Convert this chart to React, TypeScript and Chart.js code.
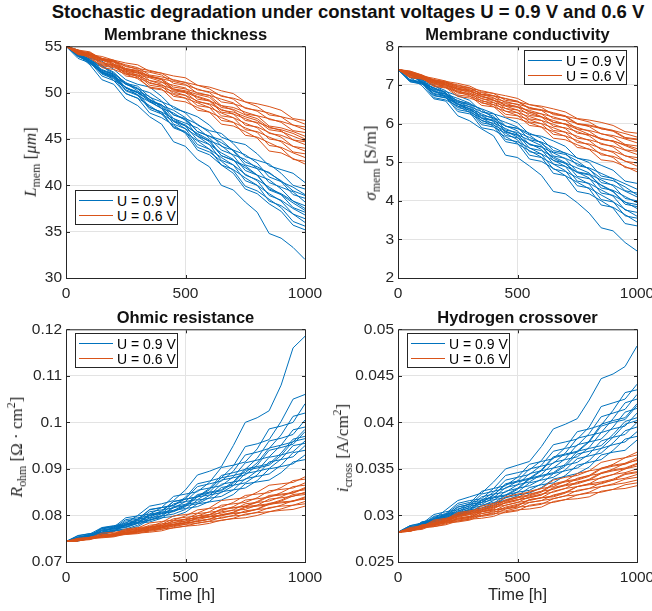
import React, { useEffect, useRef } from 'react';
import { Chart, registerables } from 'chart.js';

Chart.register(...registerables);

// ---------------- data ----------------
const TIME_H = [0, 50, 100, 150, 200, 250, 300, 350, 400, 450, 500, 550, 600, 650, 700, 750, 800, 850, 900, 950, 1000];
const X_TICKS = [0, 500, 1000];
const L_TICKS = [30, 35, 40, 45, 50, 55];
const SIGMA_TICKS = [2, 3, 4, 5, 6, 7, 8];
const R_TICKS = [0.07, 0.08, 0.09, 0.1, 0.11, 0.12];
const I_TICKS = [0.025, 0.03, 0.035, 0.04, 0.045, 0.05];
const SERIES_LABELS = ['U = 0.9 V', 'U = 0.6 V'];

const L_MEM_09 = [
  [55, 54.6, 53.7, 53.4, 52.5, 51.4, 50.9, 50.6, 49.6, 48.3, 47.9, 47.4, 46.5, 45.2, 44.7, 44.4, 43.4, 42.1, 41.7, 41.3, 40.3],
  [55, 54.0, 53.4, 52.9, 52.2, 51.0, 50.7, 49.5, 49.0, 48.5, 47.8, 46.5, 45.9, 45.6, 44.5, 43.1, 42.7, 42.3, 41.3, 40.0, 39.6],
  [55, 54.5, 53.8, 52.4, 52.0, 51.1, 50.4, 50.0, 49.1, 47.6, 47.2, 46.6, 45.7, 44.2, 43.8, 43.3, 42.4, 40.9, 40.4, 39.8, 39.0],
  [55, 53.9, 53.3, 52.8, 52.1, 50.9, 50.5, 49.2, 48.6, 48.1, 47.3, 45.8, 45.3, 44.9, 43.7, 42.2, 41.8, 41.4, 40.4, 39.0, 38.6],
  [55, 54.3, 53.6, 52.1, 51.7, 51.0, 50.2, 49.0, 48.7, 47.2, 46.7, 46.2, 45.1, 43.8, 43.3, 42.8, 41.8, 40.3, 39.8, 39.3, 38.2],
  [55, 54.0, 53.5, 53.0, 51.8, 50.5, 50.1, 49.6, 48.3, 47.8, 47.0, 45.3, 44.8, 44.3, 43.2, 41.6, 41.1, 40.6, 39.6, 38.3, 37.8],
  [55, 54.5, 53.3, 52.5, 52.0, 50.5, 50.0, 49.3, 48.5, 46.9, 46.4, 45.6, 44.9, 43.2, 42.7, 42.1, 41.1, 39.6, 39.1, 38.3, 37.5],
  [55, 53.9, 53.4, 52.0, 51.5, 50.6, 50.0, 48.4, 47.9, 47.2, 46.4, 44.9, 44.4, 43.5, 42.8, 41.1, 40.6, 39.8, 39.0, 37.6, 37.1],
  [55, 54.2, 53.6, 52.3, 51.8, 50.2, 49.7, 49.0, 48.3, 46.6, 46.1, 45.3, 44.4, 42.7, 42.2, 41.2, 40.5, 38.9, 38.4, 37.5, 36.8],
  [55, 53.7, 53.2, 52.2, 51.7, 50.3, 49.8, 48.2, 47.7, 46.9, 46.1, 44.4, 43.9, 43.0, 42.2, 40.5, 40.0, 39.1, 38.3, 36.9, 36.4],
  [55, 54.4, 53.3, 51.8, 51.3, 50.6, 49.7, 48.4, 47.9, 46.2, 45.7, 44.8, 43.9, 42.2, 41.7, 40.8, 40.0, 38.3, 37.8, 36.9, 36.0],
  [55, 54.0, 53.5, 52.1, 51.6, 49.9, 49.4, 48.6, 47.7, 46.3, 45.8, 44.1, 43.6, 42.6, 41.6, 39.9, 39.4, 38.5, 37.6, 36.1, 35.6],
  [55, 54.3, 53.1, 52.3, 51.3, 49.9, 49.4, 47.8, 47.3, 46.5, 45.6, 43.8, 43.3, 42.2, 41.3, 39.6, 39.1, 38.0, 37.2, 35.7, 35.2],
  [55, 54.1, 53.6, 52.2, 51.8, 50.9, 50.4, 49.2, 48.7, 47.6, 47.1, 45.8, 45.3, 44.6, 43.8, 42.5, 42.0, 41.3, 40.5, 39.4, 38.9],
  [55, 54.2, 53.2, 52.4, 51.9, 50.5, 50.0, 49.1, 48.3, 47.0, 46.5, 45.5, 44.7, 43.2, 42.7, 41.9, 41.1, 39.5, 39.0, 38.1, 37.3],
  [55, 54.1, 53.0, 51.4, 50.9, 49.3, 48.6, 47.4, 46.6, 44.7, 44.2, 42.8, 42.0, 40.0, 39.5, 38.2, 37.1, 34.8, 34.3, 33.3, 32.0],
];
const L_MEM_06 = [
  [55, 54.5, 54.3, 53.7, 53.5, 53.2, 53.0, 52.3, 52.1, 51.8, 51.6, 50.8, 50.6, 50.2, 49.9, 49.0, 48.8, 48.5, 48.1, 47.2, 47.0],
  [55, 54.3, 54.1, 53.9, 53.5, 52.8, 52.6, 52.4, 52.1, 51.3, 51.1, 50.8, 50.4, 49.6, 49.4, 49.0, 48.5, 47.6, 47.4, 47.1, 46.6],
  [55, 54.6, 54.4, 53.6, 53.4, 53.0, 52.7, 51.9, 51.7, 51.4, 51.1, 50.3, 50.1, 49.7, 49.3, 48.3, 48.1, 47.8, 47.4, 46.5, 46.3],
  [55, 54.2, 54.0, 53.7, 53.4, 52.6, 52.4, 52.2, 51.9, 51.0, 50.8, 50.4, 50.0, 49.0, 48.8, 48.4, 48.0, 47.1, 46.9, 46.5, 46.0],
  [55, 54.5, 54.3, 53.5, 53.3, 52.9, 52.5, 51.7, 51.5, 51.2, 50.9, 49.9, 49.7, 49.3, 48.9, 47.7, 47.5, 47.2, 46.8, 45.9, 45.7],
  [55, 54.3, 54.1, 53.7, 53.1, 52.5, 52.3, 51.8, 51.5, 50.6, 50.4, 50.0, 49.7, 48.6, 48.4, 47.9, 47.5, 46.4, 46.2, 45.8, 45.3],
  [55, 54.6, 54.0, 53.5, 53.3, 52.3, 52.1, 51.7, 51.4, 50.4, 50.2, 49.8, 49.5, 48.4, 48.2, 47.6, 47.2, 46.2, 46.0, 45.6, 45.0],
  [55, 54.4, 54.2, 53.2, 53.0, 52.6, 52.3, 51.3, 51.1, 50.8, 50.5, 49.3, 49.1, 48.6, 48.1, 47.0, 46.8, 46.3, 45.9, 44.9, 44.7],
  [55, 54.3, 54.0, 53.6, 53.1, 52.1, 51.9, 51.6, 51.2, 50.2, 50.0, 49.5, 49.1, 47.9, 47.7, 47.2, 46.7, 45.6, 45.4, 44.9, 44.4],
  [55, 54.5, 54.1, 53.1, 52.9, 52.5, 52.1, 51.0, 50.8, 50.4, 50.0, 49.0, 48.8, 48.2, 47.7, 46.5, 46.3, 45.7, 45.2, 44.2, 44.0],
  [55, 54.2, 53.8, 53.5, 53.0, 52.0, 51.8, 51.3, 50.9, 49.9, 49.7, 49.1, 48.7, 47.5, 47.3, 46.7, 46.2, 45.0, 44.8, 44.2, 43.7],
  [55, 54.6, 54.0, 53.0, 52.8, 52.3, 51.9, 50.8, 50.6, 50.1, 49.7, 48.6, 48.4, 47.8, 47.3, 46.0, 45.8, 45.2, 44.7, 43.6, 43.4],
  [55, 54.1, 53.9, 53.3, 52.9, 51.8, 51.6, 51.1, 50.7, 49.6, 49.4, 48.9, 48.4, 47.0, 46.8, 46.2, 45.7, 44.3, 44.1, 43.5, 43.0],
  [55, 54.4, 53.7, 52.9, 52.7, 52.2, 51.7, 50.5, 50.3, 49.8, 49.4, 48.1, 47.9, 47.3, 46.8, 45.4, 45.2, 44.6, 44.0, 42.8, 42.6],
  [55, 54.2, 54.0, 52.7, 52.5, 52.0, 51.5, 50.6, 50.4, 49.2, 49.0, 48.4, 47.9, 46.6, 46.4, 45.8, 45.1, 43.7, 43.5, 42.9, 42.3],
  [55, 54.4, 54.2, 53.6, 53.4, 52.4, 52.2, 51.8, 51.4, 50.3, 50.1, 49.6, 49.2, 48.1, 47.9, 47.4, 47.0, 46.0, 45.8, 45.3, 44.8],
];

const SIGMA_09 = [
  [7.4, 7.32, 7.15, 6.88, 6.83, 6.72, 6.60, 6.30, 6.25, 6.15, 6.02, 5.72, 5.67, 5.55, 5.41, 5.10, 5.05, 4.92, 4.79, 4.51, 4.45],
  [7.4, 7.14, 7.08, 6.98, 6.85, 6.55, 6.49, 6.38, 6.26, 5.93, 5.88, 5.75, 5.62, 5.30, 5.24, 5.11, 4.99, 4.64, 4.58, 4.44, 4.30],
  [7.4, 7.34, 7.14, 6.82, 6.76, 6.65, 6.53, 6.21, 6.15, 6.03, 5.91, 5.58, 5.52, 5.38, 5.23, 4.91, 4.85, 4.71, 4.57, 4.26, 4.20],
  [7.4, 7.12, 7.06, 6.93, 6.80, 6.50, 6.44, 6.31, 6.19, 5.83, 5.77, 5.64, 5.51, 5.16, 5.10, 4.96, 4.83, 4.47, 4.41, 4.25, 4.10],
  [7.4, 7.33, 7.12, 6.78, 6.72, 6.60, 6.48, 6.13, 6.07, 5.94, 5.81, 5.45, 5.39, 5.24, 5.09, 4.75, 4.69, 4.54, 4.39, 4.06, 4.00],
  [7.4, 7.11, 7.05, 6.92, 6.79, 6.45, 6.39, 6.25, 6.12, 5.77, 5.71, 5.57, 5.43, 5.04, 4.98, 4.85, 4.72, 4.33, 4.27, 4.11, 3.95],
  [7.4, 7.31, 7.10, 6.76, 6.70, 6.56, 6.43, 6.07, 6.01, 5.87, 5.73, 5.36, 5.30, 5.14, 4.99, 4.63, 4.57, 4.41, 4.25, 3.91, 3.85],
  [7.4, 7.12, 7.06, 6.91, 6.75, 6.41, 6.35, 6.20, 6.05, 5.69, 5.63, 5.48, 5.33, 4.95, 4.89, 4.74, 4.59, 4.20, 4.14, 3.97, 3.80],
  [7.4, 7.30, 7.08, 6.73, 6.67, 6.52, 6.38, 6.02, 5.96, 5.80, 5.65, 5.27, 5.21, 5.05, 4.89, 4.51, 4.45, 4.28, 4.12, 3.76, 3.70],
  [7.4, 7.09, 7.03, 6.87, 6.71, 6.36, 6.30, 6.14, 5.98, 5.59, 5.53, 5.37, 5.21, 4.82, 4.76, 4.60, 4.43, 4.03, 3.97, 3.78, 3.60],
  [7.4, 7.29, 7.07, 6.72, 6.66, 6.50, 6.33, 5.97, 5.91, 5.75, 5.58, 5.18, 5.12, 4.95, 4.78, 4.39, 4.33, 4.15, 3.98, 3.61, 3.55],
  [7.4, 7.08, 7.02, 6.85, 6.68, 6.31, 6.25, 6.09, 5.93, 5.53, 5.47, 5.30, 5.13, 4.71, 4.65, 4.48, 4.31, 3.89, 3.83, 3.64, 3.45],
  [7.4, 7.28, 7.05, 6.67, 6.61, 6.45, 6.29, 5.89, 5.83, 5.66, 5.49, 5.08, 5.02, 4.84, 4.65, 4.24, 4.18, 4.00, 3.81, 3.41, 3.35],
  [7.4, 7.19, 7.13, 7.00, 6.78, 6.58, 6.52, 6.36, 6.14, 5.93, 5.87, 5.70, 5.48, 5.26, 5.20, 5.03, 4.81, 4.58, 4.52, 4.36, 4.15],
  [7.4, 7.30, 7.05, 6.83, 6.77, 6.50, 6.38, 6.15, 6.09, 5.80, 5.69, 5.46, 5.40, 5.10, 4.96, 4.73, 4.67, 4.40, 4.23, 3.96, 3.90],
  [7.4, 7.20, 6.98, 6.64, 6.58, 6.20, 6.07, 5.86, 5.68, 5.18, 5.12, 4.90, 4.66, 4.24, 4.18, 3.95, 3.68, 3.30, 3.22, 2.92, 2.70],
];
const SIGMA_06 = [
  [7.4, 7.36, 7.26, 7.13, 7.09, 7.04, 6.97, 6.82, 6.78, 6.72, 6.65, 6.49, 6.45, 6.38, 6.30, 6.13, 6.09, 6.03, 5.95, 5.79, 5.75],
  [7.4, 7.27, 7.23, 7.17, 7.10, 6.95, 6.91, 6.85, 6.78, 6.60, 6.56, 6.49, 6.42, 6.23, 6.19, 6.12, 6.04, 5.86, 5.82, 5.74, 5.65],
  [7.4, 7.35, 7.25, 7.09, 7.05, 6.98, 6.92, 6.75, 6.71, 6.64, 6.57, 6.38, 6.34, 6.26, 6.18, 5.98, 5.94, 5.87, 5.80, 5.62, 5.58],
  [7.4, 7.25, 7.21, 7.14, 7.07, 6.91, 6.87, 6.80, 6.72, 6.54, 6.50, 6.42, 6.34, 6.13, 6.09, 6.00, 5.92, 5.73, 5.69, 5.60, 5.50],
  [7.4, 7.34, 7.23, 7.07, 7.03, 6.95, 6.88, 6.69, 6.65, 6.57, 6.49, 6.29, 6.25, 6.17, 6.08, 5.86, 5.82, 5.74, 5.65, 5.46, 5.42],
  [7.4, 7.24, 7.20, 7.12, 7.05, 6.87, 6.83, 6.75, 6.67, 6.46, 6.42, 6.34, 6.25, 6.03, 5.99, 5.90, 5.80, 5.59, 5.55, 5.45, 5.35],
  [7.4, 7.33, 7.22, 7.04, 7.00, 6.92, 6.84, 6.64, 6.60, 6.52, 6.43, 6.21, 6.17, 6.08, 5.98, 5.75, 5.71, 5.62, 5.53, 5.32, 5.28],
  [7.4, 7.23, 7.19, 7.11, 7.02, 6.82, 6.78, 6.70, 6.61, 6.39, 6.35, 6.26, 6.17, 5.93, 5.89, 5.79, 5.68, 5.46, 5.42, 5.31, 5.20],
  [7.4, 7.32, 7.21, 7.01, 6.97, 6.89, 6.80, 6.58, 6.54, 6.45, 6.35, 6.12, 6.08, 5.98, 5.87, 5.62, 5.58, 5.49, 5.39, 5.16, 5.12],
  [7.4, 7.21, 7.17, 7.08, 6.99, 6.79, 6.75, 6.65, 6.55, 6.32, 6.28, 6.18, 6.08, 5.82, 5.78, 5.67, 5.56, 5.32, 5.28, 5.17, 5.05],
  [7.4, 7.31, 7.19, 6.98, 6.94, 6.85, 6.76, 6.53, 6.49, 6.39, 6.28, 6.04, 6.00, 5.89, 5.77, 5.51, 5.47, 5.36, 5.25, 5.02, 4.98],
  [7.4, 7.20, 7.16, 7.06, 6.96, 6.74, 6.70, 6.60, 6.49, 6.24, 6.20, 6.10, 5.99, 5.72, 5.68, 5.56, 5.44, 5.19, 5.15, 5.03, 4.90],
  [7.4, 7.30, 7.18, 6.96, 6.92, 6.82, 6.72, 6.47, 6.43, 6.32, 6.21, 5.95, 5.91, 5.79, 5.67, 5.38, 5.34, 5.23, 5.12, 4.86, 4.82],
  [7.4, 7.19, 7.15, 7.04, 6.93, 6.70, 6.66, 6.55, 6.44, 6.17, 6.13, 6.02, 5.91, 5.62, 5.58, 5.45, 5.33, 5.06, 5.02, 4.89, 4.75],
  [7.4, 7.26, 7.22, 7.10, 7.00, 6.89, 6.85, 6.72, 6.60, 6.48, 6.44, 6.31, 6.18, 6.03, 5.99, 5.85, 5.72, 5.59, 5.55, 5.43, 5.30],
  [7.4, 7.33, 7.25, 7.11, 7.07, 7.00, 6.93, 6.76, 6.72, 6.65, 6.58, 6.40, 6.36, 6.28, 6.20, 6.00, 5.96, 5.89, 5.82, 5.64, 5.60],
];

const R_OHM_09 = [
  [0.0744, 0.0746, 0.0756, 0.0772, 0.0776, 0.0779, 0.0791, 0.0813, 0.0817, 0.0822, 0.0839, 0.0868, 0.0874, 0.0881, 0.0906, 0.0948, 0.0954, 0.0963, 0.1002, 0.1050, 0.1060],
  [0.0744, 0.0757, 0.0761, 0.0764, 0.0775, 0.0795, 0.0799, 0.0803, 0.0817, 0.0841, 0.0846, 0.0851, 0.0871, 0.0903, 0.0908, 0.0915, 0.0943, 0.0986, 0.0992, 0.1000, 0.1040],
  [0.0744, 0.0747, 0.0757, 0.0773, 0.0777, 0.0780, 0.0792, 0.0812, 0.0817, 0.0821, 0.0836, 0.0862, 0.0868, 0.0874, 0.0895, 0.0930, 0.0936, 0.0944, 0.0973, 0.1013, 0.1020],
  [0.0744, 0.0754, 0.0759, 0.0762, 0.0770, 0.0788, 0.0792, 0.0796, 0.0808, 0.0830, 0.0835, 0.0840, 0.0858, 0.0886, 0.0892, 0.0899, 0.0923, 0.0960, 0.0966, 0.0974, 0.1005],
  [0.0744, 0.0747, 0.0756, 0.0771, 0.0775, 0.0778, 0.0789, 0.0808, 0.0812, 0.0816, 0.0830, 0.0854, 0.0859, 0.0864, 0.0883, 0.0913, 0.0919, 0.0926, 0.0951, 0.0984, 0.0990],
  [0.0744, 0.0753, 0.0758, 0.0761, 0.0768, 0.0785, 0.0789, 0.0793, 0.0804, 0.0825, 0.0830, 0.0834, 0.0850, 0.0876, 0.0881, 0.0887, 0.0908, 0.0940, 0.0946, 0.0953, 0.0980],
  [0.0744, 0.0746, 0.0755, 0.0769, 0.0773, 0.0776, 0.0785, 0.0803, 0.0807, 0.0811, 0.0823, 0.0845, 0.0850, 0.0855, 0.0872, 0.0900, 0.0905, 0.0911, 0.0934, 0.0964, 0.0970],
  [0.0744, 0.0752, 0.0757, 0.0760, 0.0766, 0.0782, 0.0786, 0.0790, 0.0800, 0.0819, 0.0824, 0.0828, 0.0843, 0.0867, 0.0872, 0.0877, 0.0896, 0.0925, 0.0930, 0.0937, 0.0960],
  [0.0744, 0.0746, 0.0754, 0.0768, 0.0772, 0.0775, 0.0783, 0.0800, 0.0804, 0.0808, 0.0819, 0.0840, 0.0844, 0.0849, 0.0864, 0.0890, 0.0895, 0.0901, 0.0921, 0.0950, 0.0955],
  [0.0744, 0.0752, 0.0757, 0.0760, 0.0766, 0.0781, 0.0785, 0.0789, 0.0798, 0.0817, 0.0821, 0.0825, 0.0838, 0.0860, 0.0865, 0.0870, 0.0887, 0.0915, 0.0920, 0.0926, 0.0950],
  [0.0744, 0.0746, 0.0752, 0.0764, 0.0768, 0.0771, 0.0779, 0.0795, 0.0799, 0.0803, 0.0813, 0.0833, 0.0837, 0.0841, 0.0855, 0.0879, 0.0884, 0.0889, 0.0908, 0.0935, 0.0940],
  [0.0744, 0.0751, 0.0757, 0.0759, 0.0765, 0.0779, 0.0783, 0.0786, 0.0794, 0.0811, 0.0815, 0.0819, 0.0830, 0.0851, 0.0855, 0.0859, 0.0875, 0.0900, 0.0905, 0.0911, 0.0930],
  [0.0744, 0.0745, 0.0751, 0.0763, 0.0767, 0.0769, 0.0776, 0.0791, 0.0795, 0.0798, 0.0807, 0.0825, 0.0829, 0.0833, 0.0845, 0.0868, 0.0872, 0.0876, 0.0892, 0.0915, 0.0920],
  [0.0744, 0.0756, 0.0761, 0.0764, 0.0773, 0.0791, 0.0795, 0.0799, 0.0810, 0.0830, 0.0835, 0.0840, 0.0855, 0.0881, 0.0886, 0.0892, 0.0913, 0.0945, 0.0951, 0.0958, 0.0985],
  [0.0744, 0.0746, 0.0754, 0.0767, 0.0771, 0.0774, 0.0783, 0.0801, 0.0805, 0.0809, 0.0821, 0.0843, 0.0848, 0.0853, 0.0869, 0.0897, 0.0902, 0.0908, 0.0929, 0.0959, 0.0965],
  [0.0744, 0.0749, 0.0760, 0.0774, 0.0778, 0.0783, 0.0800, 0.0820, 0.0825, 0.0832, 0.0855, 0.0887, 0.0895, 0.0905, 0.0950, 0.1000, 0.1010, 0.1025, 0.1080, 0.1160, 0.1185],
];
const R_OHM_06 = [
  [0.0744, 0.0746, 0.0753, 0.0755, 0.0761, 0.0771, 0.0774, 0.0776, 0.0785, 0.0799, 0.0802, 0.0805, 0.0816, 0.0832, 0.0835, 0.0838, 0.0850, 0.0865, 0.0868, 0.0871, 0.0883],
  [0.0744, 0.0750, 0.0752, 0.0762, 0.0764, 0.0766, 0.0773, 0.0784, 0.0787, 0.0790, 0.0799, 0.0812, 0.0815, 0.0818, 0.0828, 0.0843, 0.0846, 0.0849, 0.0860, 0.0875, 0.0878],
  [0.0744, 0.0746, 0.0753, 0.0755, 0.0760, 0.0769, 0.0772, 0.0774, 0.0781, 0.0793, 0.0796, 0.0799, 0.0808, 0.0822, 0.0825, 0.0828, 0.0838, 0.0853, 0.0856, 0.0859, 0.0870],
  [0.0744, 0.0748, 0.0750, 0.0759, 0.0761, 0.0763, 0.0769, 0.0779, 0.0782, 0.0784, 0.0792, 0.0804, 0.0807, 0.0810, 0.0819, 0.0833, 0.0836, 0.0839, 0.0849, 0.0862, 0.0865],
  [0.0744, 0.0746, 0.0753, 0.0755, 0.0759, 0.0767, 0.0770, 0.0772, 0.0778, 0.0789, 0.0792, 0.0795, 0.0802, 0.0814, 0.0817, 0.0820, 0.0830, 0.0843, 0.0846, 0.0849, 0.0860],
  [0.0744, 0.0748, 0.0750, 0.0758, 0.0760, 0.0762, 0.0767, 0.0776, 0.0779, 0.0781, 0.0788, 0.0799, 0.0802, 0.0805, 0.0812, 0.0825, 0.0828, 0.0831, 0.0840, 0.0852, 0.0855],
  [0.0744, 0.0746, 0.0752, 0.0754, 0.0757, 0.0765, 0.0768, 0.0770, 0.0775, 0.0785, 0.0788, 0.0791, 0.0797, 0.0808, 0.0811, 0.0813, 0.0822, 0.0835, 0.0838, 0.0841, 0.0850],
  [0.0744, 0.0747, 0.0749, 0.0757, 0.0759, 0.0761, 0.0765, 0.0773, 0.0776, 0.0778, 0.0784, 0.0794, 0.0797, 0.0799, 0.0806, 0.0817, 0.0820, 0.0823, 0.0831, 0.0842, 0.0845],
  [0.0744, 0.0746, 0.0752, 0.0754, 0.0757, 0.0763, 0.0766, 0.0768, 0.0773, 0.0781, 0.0784, 0.0787, 0.0792, 0.0802, 0.0805, 0.0807, 0.0814, 0.0826, 0.0829, 0.0831, 0.0840],
  [0.0744, 0.0747, 0.0749, 0.0756, 0.0758, 0.0760, 0.0764, 0.0771, 0.0774, 0.0776, 0.0781, 0.0789, 0.0792, 0.0794, 0.0800, 0.0810, 0.0813, 0.0815, 0.0822, 0.0832, 0.0835],
  [0.0744, 0.0746, 0.0751, 0.0753, 0.0755, 0.0762, 0.0764, 0.0766, 0.0770, 0.0778, 0.0781, 0.0783, 0.0788, 0.0796, 0.0799, 0.0801, 0.0807, 0.0817, 0.0820, 0.0822, 0.0830],
  [0.0744, 0.0746, 0.0748, 0.0755, 0.0757, 0.0759, 0.0761, 0.0768, 0.0771, 0.0773, 0.0777, 0.0784, 0.0787, 0.0789, 0.0794, 0.0803, 0.0806, 0.0808, 0.0814, 0.0822, 0.0825],
  [0.0744, 0.0745, 0.0750, 0.0752, 0.0754, 0.0760, 0.0762, 0.0764, 0.0767, 0.0774, 0.0777, 0.0779, 0.0783, 0.0790, 0.0793, 0.0795, 0.0800, 0.0808, 0.0811, 0.0813, 0.0820],
  [0.0744, 0.0751, 0.0753, 0.0757, 0.0759, 0.0767, 0.0770, 0.0775, 0.0778, 0.0788, 0.0791, 0.0795, 0.0801, 0.0813, 0.0816, 0.0820, 0.0828, 0.0841, 0.0844, 0.0848, 0.0858],
  [0.0744, 0.0746, 0.0750, 0.0757, 0.0760, 0.0763, 0.0766, 0.0774, 0.0777, 0.0780, 0.0785, 0.0795, 0.0798, 0.0801, 0.0807, 0.0819, 0.0822, 0.0825, 0.0833, 0.0845, 0.0848],
  [0.0744, 0.0749, 0.0751, 0.0754, 0.0756, 0.0763, 0.0766, 0.0769, 0.0773, 0.0781, 0.0784, 0.0787, 0.0792, 0.0801, 0.0804, 0.0807, 0.0813, 0.0824, 0.0827, 0.0830, 0.0838],
];

const I_CROSS_09 = [
  [0.0282, 0.0284, 0.0293, 0.0295, 0.0302, 0.0313, 0.0316, 0.0318, 0.0329, 0.0343, 0.0346, 0.0349, 0.0359, 0.0376, 0.0379, 0.0382, 0.0395, 0.0417, 0.0421, 0.0425, 0.0441],
  [0.0282, 0.0289, 0.0291, 0.0301, 0.0304, 0.0306, 0.0313, 0.0326, 0.0329, 0.0332, 0.0341, 0.0355, 0.0358, 0.0361, 0.0373, 0.0390, 0.0393, 0.0397, 0.0413, 0.0432, 0.0435],
  [0.0282, 0.0284, 0.0292, 0.0294, 0.0301, 0.0311, 0.0314, 0.0316, 0.0325, 0.0338, 0.0341, 0.0344, 0.0354, 0.0369, 0.0372, 0.0375, 0.0388, 0.0406, 0.0410, 0.0414, 0.0430],
  [0.0282, 0.0288, 0.0290, 0.0299, 0.0302, 0.0304, 0.0311, 0.0323, 0.0326, 0.0329, 0.0337, 0.0350, 0.0353, 0.0356, 0.0367, 0.0383, 0.0386, 0.0389, 0.0404, 0.0421, 0.0425],
  [0.0282, 0.0284, 0.0292, 0.0294, 0.0300, 0.0309, 0.0312, 0.0314, 0.0322, 0.0334, 0.0337, 0.0340, 0.0349, 0.0363, 0.0366, 0.0369, 0.0380, 0.0398, 0.0402, 0.0405, 0.0420],
  [0.0282, 0.0288, 0.0290, 0.0298, 0.0301, 0.0303, 0.0309, 0.0320, 0.0323, 0.0325, 0.0333, 0.0345, 0.0348, 0.0351, 0.0361, 0.0376, 0.0379, 0.0382, 0.0395, 0.0411, 0.0415],
  [0.0282, 0.0284, 0.0291, 0.0293, 0.0298, 0.0307, 0.0310, 0.0312, 0.0319, 0.0330, 0.0333, 0.0336, 0.0344, 0.0357, 0.0360, 0.0363, 0.0373, 0.0389, 0.0393, 0.0396, 0.0410],
  [0.0282, 0.0287, 0.0289, 0.0297, 0.0300, 0.0302, 0.0307, 0.0317, 0.0320, 0.0322, 0.0329, 0.0340, 0.0343, 0.0346, 0.0355, 0.0369, 0.0372, 0.0375, 0.0387, 0.0401, 0.0405],
  [0.0282, 0.0284, 0.0291, 0.0293, 0.0297, 0.0305, 0.0308, 0.0310, 0.0316, 0.0326, 0.0329, 0.0332, 0.0339, 0.0351, 0.0354, 0.0357, 0.0366, 0.0380, 0.0384, 0.0387, 0.0400],
  [0.0282, 0.0286, 0.0288, 0.0296, 0.0298, 0.0300, 0.0305, 0.0314, 0.0317, 0.0319, 0.0325, 0.0335, 0.0338, 0.0341, 0.0349, 0.0361, 0.0364, 0.0367, 0.0378, 0.0391, 0.0395],
  [0.0282, 0.0284, 0.0290, 0.0292, 0.0296, 0.0303, 0.0306, 0.0308, 0.0313, 0.0322, 0.0325, 0.0327, 0.0334, 0.0345, 0.0348, 0.0351, 0.0359, 0.0372, 0.0376, 0.0379, 0.0390],
  [0.0282, 0.0286, 0.0288, 0.0295, 0.0297, 0.0299, 0.0303, 0.0311, 0.0314, 0.0316, 0.0321, 0.0330, 0.0333, 0.0335, 0.0343, 0.0354, 0.0357, 0.0360, 0.0370, 0.0382, 0.0385],
  [0.0282, 0.0284, 0.0289, 0.0291, 0.0294, 0.0301, 0.0304, 0.0306, 0.0311, 0.0319, 0.0322, 0.0324, 0.0330, 0.0339, 0.0342, 0.0345, 0.0352, 0.0365, 0.0368, 0.0370, 0.0381],
  [0.0282, 0.0289, 0.0292, 0.0294, 0.0299, 0.0309, 0.0312, 0.0314, 0.0322, 0.0333, 0.0336, 0.0339, 0.0348, 0.0362, 0.0365, 0.0368, 0.0379, 0.0396, 0.0400, 0.0403, 0.0418],
  [0.0282, 0.0284, 0.0289, 0.0297, 0.0299, 0.0301, 0.0306, 0.0316, 0.0319, 0.0321, 0.0328, 0.0339, 0.0342, 0.0345, 0.0353, 0.0366, 0.0369, 0.0372, 0.0384, 0.0398, 0.0402],
  [0.0282, 0.0285, 0.0293, 0.0296, 0.0306, 0.0316, 0.0320, 0.0324, 0.0336, 0.0350, 0.0354, 0.0358, 0.0374, 0.0393, 0.0398, 0.0404, 0.0424, 0.0447, 0.0452, 0.0460, 0.0482],
];
const I_CROSS_06 = [
  [0.0282, 0.0284, 0.0290, 0.0291, 0.0296, 0.0303, 0.0305, 0.0307, 0.0312, 0.0320, 0.0323, 0.0325, 0.0329, 0.0338, 0.0341, 0.0343, 0.0348, 0.0357, 0.0360, 0.0362, 0.0368],
  [0.0282, 0.0286, 0.0288, 0.0295, 0.0297, 0.0299, 0.0303, 0.0310, 0.0313, 0.0315, 0.0319, 0.0326, 0.0329, 0.0331, 0.0337, 0.0345, 0.0348, 0.0350, 0.0355, 0.0362, 0.0365],
  [0.0282, 0.0284, 0.0289, 0.0290, 0.0295, 0.0302, 0.0304, 0.0306, 0.0310, 0.0317, 0.0320, 0.0322, 0.0326, 0.0334, 0.0337, 0.0339, 0.0343, 0.0351, 0.0354, 0.0356, 0.0362],
  [0.0282, 0.0285, 0.0287, 0.0294, 0.0296, 0.0298, 0.0301, 0.0308, 0.0311, 0.0313, 0.0316, 0.0323, 0.0326, 0.0328, 0.0333, 0.0340, 0.0343, 0.0345, 0.0350, 0.0356, 0.0359],
  [0.0282, 0.0284, 0.0289, 0.0290, 0.0294, 0.0300, 0.0302, 0.0304, 0.0308, 0.0314, 0.0317, 0.0319, 0.0322, 0.0330, 0.0333, 0.0335, 0.0339, 0.0346, 0.0349, 0.0351, 0.0356],
  [0.0282, 0.0285, 0.0287, 0.0293, 0.0295, 0.0297, 0.0299, 0.0306, 0.0309, 0.0311, 0.0314, 0.0320, 0.0323, 0.0325, 0.0329, 0.0336, 0.0338, 0.0340, 0.0344, 0.0350, 0.0353],
  [0.0282, 0.0284, 0.0288, 0.0289, 0.0293, 0.0299, 0.0301, 0.0302, 0.0305, 0.0311, 0.0314, 0.0316, 0.0319, 0.0326, 0.0329, 0.0331, 0.0334, 0.0341, 0.0344, 0.0346, 0.0350],
  [0.0282, 0.0285, 0.0286, 0.0292, 0.0294, 0.0296, 0.0298, 0.0304, 0.0306, 0.0308, 0.0311, 0.0317, 0.0319, 0.0321, 0.0325, 0.0331, 0.0334, 0.0336, 0.0339, 0.0345, 0.0347],
  [0.0282, 0.0284, 0.0288, 0.0289, 0.0292, 0.0297, 0.0299, 0.0300, 0.0303, 0.0309, 0.0312, 0.0314, 0.0316, 0.0322, 0.0325, 0.0326, 0.0329, 0.0335, 0.0338, 0.0340, 0.0344],
  [0.0282, 0.0285, 0.0286, 0.0291, 0.0293, 0.0294, 0.0296, 0.0302, 0.0304, 0.0305, 0.0308, 0.0314, 0.0316, 0.0318, 0.0321, 0.0327, 0.0329, 0.0331, 0.0334, 0.0339, 0.0341],
  [0.0282, 0.0283, 0.0287, 0.0288, 0.0291, 0.0296, 0.0298, 0.0299, 0.0301, 0.0307, 0.0309, 0.0310, 0.0312, 0.0318, 0.0321, 0.0322, 0.0325, 0.0331, 0.0333, 0.0335, 0.0338],
  [0.0282, 0.0284, 0.0285, 0.0290, 0.0292, 0.0293, 0.0295, 0.0300, 0.0302, 0.0303, 0.0305, 0.0311, 0.0313, 0.0314, 0.0317, 0.0322, 0.0324, 0.0325, 0.0328, 0.0333, 0.0335],
  [0.0282, 0.0283, 0.0287, 0.0288, 0.0290, 0.0294, 0.0296, 0.0297, 0.0299, 0.0304, 0.0306, 0.0307, 0.0309, 0.0315, 0.0317, 0.0318, 0.0320, 0.0326, 0.0328, 0.0329, 0.0332],
  [0.0282, 0.0287, 0.0289, 0.0291, 0.0293, 0.0300, 0.0302, 0.0304, 0.0307, 0.0314, 0.0317, 0.0319, 0.0322, 0.0329, 0.0332, 0.0334, 0.0338, 0.0345, 0.0348, 0.0350, 0.0355],
  [0.0282, 0.0283, 0.0286, 0.0292, 0.0294, 0.0295, 0.0297, 0.0304, 0.0306, 0.0307, 0.0310, 0.0317, 0.0319, 0.0320, 0.0324, 0.0331, 0.0333, 0.0334, 0.0338, 0.0344, 0.0346],
  [0.0282, 0.0285, 0.0289, 0.0291, 0.0294, 0.0301, 0.0303, 0.0305, 0.0309, 0.0316, 0.0319, 0.0321, 0.0325, 0.0333, 0.0336, 0.0338, 0.0342, 0.0350, 0.0353, 0.0355, 0.0360],
];

// ---------------- styling ----------------
const BLUE = '#0072BD';
const ORANGE = '#D95319';
const INK = '#262626';
const GRID = '#e3e3e3';
const SANS = '"Liberation Sans", Arial, Helvetica, sans-serif';
const SERIF = '"Liberation Serif", "Times New Roman", serif';

const PAD_L = 52;
const PAD_T = 12;
const PAD_R = 24;
const PAD_B = 30;

const fmt = (v: number) => String(parseFloat(Number(v).toFixed(4)));

const boxPlugin = {
  id: 'matlabBox',
  afterDatasetsDraw(chart: any) {
    const { ctx, chartArea } = chart;
    const { left, top, right, bottom } = chartArea;
    ctx.save();
    ctx.strokeStyle = INK;
    ctx.lineWidth = 1;
    ctx.strokeRect(left + 0.5, top + 0.5, right - left, bottom - top);
    ctx.beginPath();
    const xs = chart.scales.x;
    const ys = chart.scales.y;
    xs.ticks.forEach((t: any) => {
      const x = Math.round(xs.getPixelForValue(t.value)) + 0.5;
      ctx.moveTo(x, bottom);
      ctx.lineTo(x, bottom - 3);
      ctx.moveTo(x, top + 1);
      ctx.lineTo(x, top + 4);
    });
    ys.ticks.forEach((t: any) => {
      const y = Math.round(ys.getPixelForValue(t.value)) + 0.5;
      ctx.moveTo(left + 1, y);
      ctx.lineTo(left + 4, y);
      ctx.moveTo(right, y);
      ctx.lineTo(right - 3, y);
    });
    ctx.stroke();
    ctx.restore();
  },
};

type PanelDef = {
  title: string;
  runs09: number[][];
  runs06: number[][];
  yTicks: number[];
  plot: { l: number; t: number; r: number; b: number };
  yLabel: React.ReactNode;
  yLabelPos: { x: number; y: number };
  legendPos: { x: number; y: number };
  showX: boolean;
};

function Legend({ x, y }: { x: number; y: number }) {
  const colors = [BLUE, ORANGE];
  return (
    <div
      style={{
        position: 'absolute',
        left: x,
        top: y,
        width: 103,
        height: 35,
        boxSizing: 'border-box',
        border: `1px solid ${INK}`,
        background: '#fff',
      }}
    >
      {SERIES_LABELS.map((lab, i) => (
        <React.Fragment key={lab}>
          <div
            style={{
              position: 'absolute',
              left: 3,
              top: 9 + i * 15,
              width: 34,
              height: 1,
              background: colors[i],
            }}
          />
          <div
            style={{
              position: 'absolute',
              left: 41,
              top: 9.5 + i * 15,
              transform: 'translateY(-50%)',
              whiteSpace: 'nowrap',
              fontFamily: SANS,
              fontSize: 14,
              color: '#000',
              lineHeight: 1,
            }}
          >
            {lab}
          </div>
        </React.Fragment>
      ))}
    </div>
  );
}

function PanelChart({ p }: { p: PanelDef }) {
  const ref = useRef<HTMLCanvasElement | null>(null);
  const cLeft = p.plot.l - PAD_L;
  const cTop = p.plot.t - PAD_T;
  const w = p.plot.r - cLeft + PAD_R;
  const h = p.plot.b - cTop + PAD_B;

  useEffect(() => {
    if (!ref.current) return;
    const mk = (run: number[], color: string) => ({
      data: run.map((y, i) => ({ x: TIME_H[i], y })),
      borderColor: color,
      borderWidth: 1,
      pointRadius: 0,
      tension: 0,
      fill: false,
    });
    const datasets = [
      ...p.runs06.map((r) => mk(r, ORANGE)),
      ...p.runs09.map((r) => mk(r, BLUE)),
    ];
    const tickFont = { family: SANS, size: 15.5 };
    const chart = new Chart(ref.current, {
      type: 'line',
      data: { datasets } as any,
      options: {
        responsive: false,
        animation: false,
        devicePixelRatio: 1,
        events: [],
        layout: { padding: { top: PAD_T, right: PAD_R, left: 0, bottom: 0 } },
        plugins: {
          legend: { display: false },
          tooltip: { enabled: false },
          title: { display: false },
        },
        scales: {
          x: {
            type: 'linear',
            min: X_TICKS[0],
            max: X_TICKS[X_TICKS.length - 1],
            afterFit: (s: any) => {
              s.height = PAD_B;
            },
            afterBuildTicks: (s: any) => {
              s.ticks = X_TICKS.map((value) => ({ value }));
            },
            grid: { color: GRID, drawTicks: false, lineWidth: 1 },
            border: { display: false },
            ticks: {
              padding: 6,
              color: INK,
              font: tickFont,
              maxRotation: 0,
              autoSkip: false,
              callback: (v: any) => fmt(v),
            },
          },
          y: {
            type: 'linear',
            min: p.yTicks[0],
            max: p.yTicks[p.yTicks.length - 1],
            afterFit: (s: any) => {
              s.width = PAD_L;
            },
            afterBuildTicks: (s: any) => {
              s.ticks = p.yTicks.map((value) => ({ value }));
            },
            grid: { color: GRID, drawTicks: false, lineWidth: 1 },
            border: { display: false },
            ticks: {
              padding: 4,
              color: INK,
              font: tickFont,
              autoSkip: false,
              callback: (v: any) => fmt(v),
            },
          },
        },
      } as any,
      plugins: [boxPlugin],
    });
    return () => chart.destroy();
  }, []);

  const cx = (p.plot.l + p.plot.r) / 2;
  return (
    <>
      <canvas
        ref={ref}
        width={w}
        height={h}
        style={{ position: 'absolute', left: cLeft, top: cTop, width: w, height: h }}
      />
      <div
        style={{
          position: 'absolute',
          left: cx,
          top: p.plot.t - 11,
          transform: 'translate(-50%, -50%)',
          whiteSpace: 'nowrap',
          fontFamily: SANS,
          fontWeight: 'bold',
          fontSize: 16.5,
          color: '#111',
        }}
      >
        {p.title}
      </div>
      <div
        style={{
          position: 'absolute',
          left: p.yLabelPos.x,
          top: p.yLabelPos.y,
          transform: 'translate(-50%, -50%) rotate(-90deg)',
          whiteSpace: 'nowrap',
          fontFamily: SERIF,
          fontSize: 17,
          color: INK,
          lineHeight: 1,
        }}
      >
        {p.yLabel}
      </div>
      {p.showX && (
        <div
          style={{
            position: 'absolute',
            left: cx,
            top: 594,
            transform: 'translate(-50%, -50%)',
            whiteSpace: 'nowrap',
            fontFamily: SANS,
            fontSize: 16.5,
            color: INK,
          }}
        >
          Time [h]
        </div>
      )}
      <Legend x={p.legendPos.x} y={p.legendPos.y} />
    </>
  );
}

const subStyle: React.CSSProperties = { fontSize: '70%', verticalAlign: '-0.3em' };
const supStyle: React.CSSProperties = { fontSize: '70%', verticalAlign: '0.55em' };

const PANELS: PanelDef[] = [
  {
    title: 'Membrane thickness',
    runs09: L_MEM_09,
    runs06: L_MEM_06,
    yTicks: L_TICKS,
    plot: { l: 66, t: 45, r: 305, b: 278 },
    yLabel: (
      <span>
        <i>L</i>
        <span style={subStyle}>mem</span> [<i>μ</i>
        <i>m</i>]
      </span>
    ),
    yLabelPos: { x: 32, y: 162 },
    legendPos: { x: 75, y: 190 },
    showX: false,
  },
  {
    title: 'Membrane conductivity',
    runs09: SIGMA_09,
    runs06: SIGMA_06,
    yTicks: SIGMA_TICKS,
    plot: { l: 398, t: 45, r: 637, b: 278 },
    yLabel: (
      <span>
        <i>σ</i>
        <span style={subStyle}>mem</span> [S/m]
      </span>
    ),
    yLabelPos: { x: 372, y: 163 },
    legendPos: { x: 524, y: 50 },
    showX: false,
  },
  {
    title: 'Ohmic resistance',
    runs09: R_OHM_09,
    runs06: R_OHM_06,
    yTicks: R_TICKS,
    plot: { l: 66, t: 328, r: 305, b: 562 },
    yLabel: (
      <span>
        <i>R</i>
        <span style={subStyle}>ohm</span> [Ω · cm<span style={supStyle}>2</span>]
      </span>
    ),
    yLabelPos: { x: 17, y: 447 },
    legendPos: { x: 75, y: 333 },
    showX: true,
  },
  {
    title: 'Hydrogen crossover',
    runs09: I_CROSS_09,
    runs06: I_CROSS_06,
    yTicks: I_TICKS,
    plot: { l: 398, t: 328, r: 637, b: 562 },
    yLabel: (
      <span>
        <i>i</i>
        <span style={subStyle}>cross</span> [A/cm<span style={supStyle}>2</span>]
      </span>
    ),
    yLabelPos: { x: 343, y: 448 },
    legendPos: { x: 407, y: 333 },
    showX: true,
  },
];

export default function App() {
  return (
    <div
      style={{
        position: 'absolute',
        left: 0,
        top: 0,
        width: 652,
        height: 611,
        overflow: 'hidden',
        background: '#fff',
      }}
    >
      <div
        style={{
          position: 'absolute',
          left: 348,
          top: 12,
          transform: 'translate(-50%, -50%)',
          whiteSpace: 'nowrap',
          fontFamily: SANS,
          fontWeight: 'bold',
          fontSize: 18.5,
          color: '#111',
        }}
      >
        Stochastic degradation under constant voltages U = 0.9 V and 0.6 V
      </div>
      {PANELS.map((p) => (
        <PanelChart key={p.title} p={p} />
      ))}
    </div>
  );
}
